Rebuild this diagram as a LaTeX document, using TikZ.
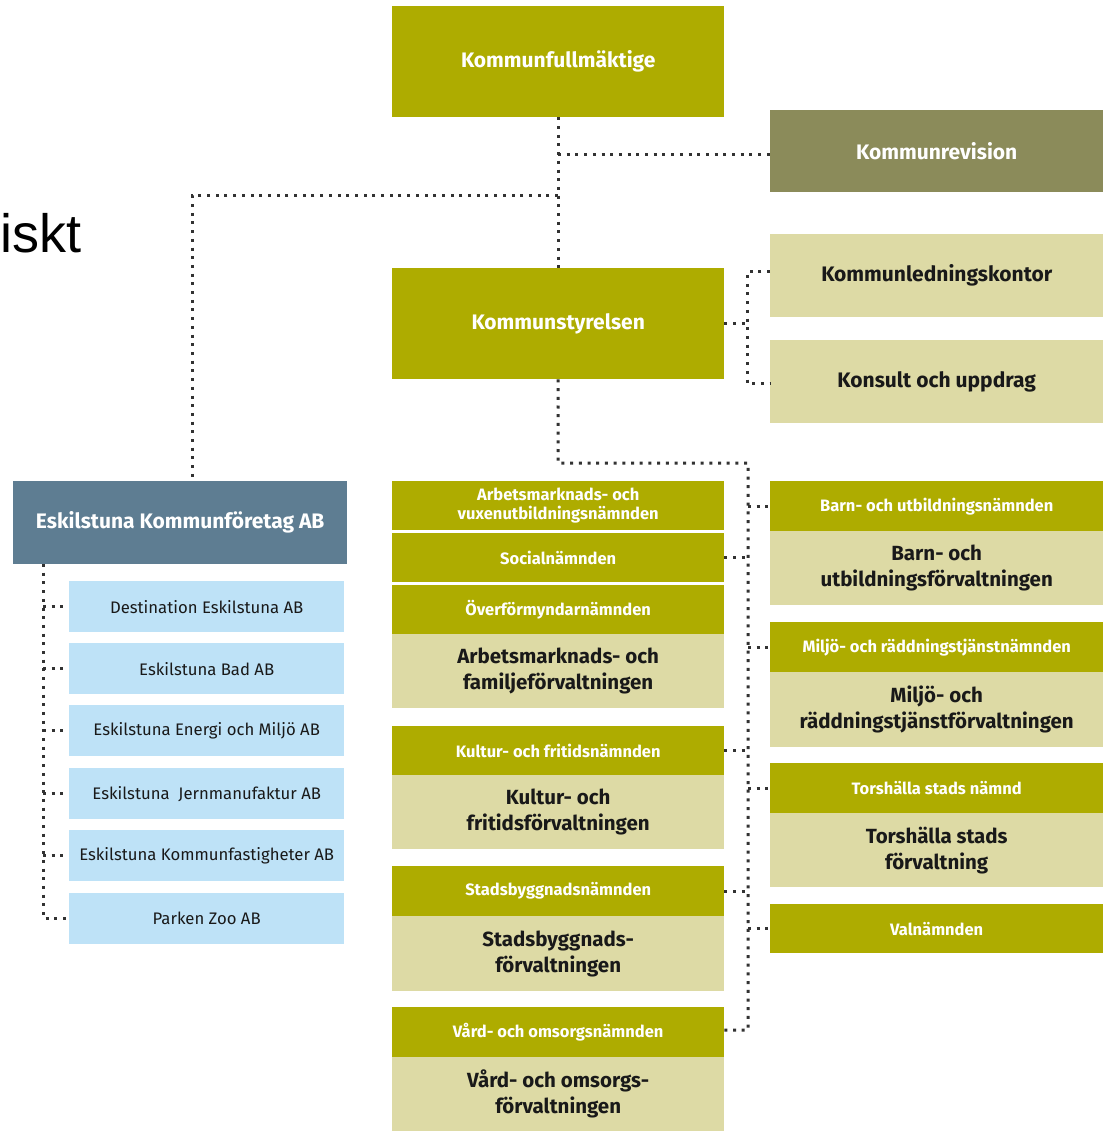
\documentclass[tikz,border=0pt]{standalone}
\usepackage{fontspec}
\setmainfont{Fira Sans}
\newfontfamily\hfont{Fira Sans}
\newfontfamily\dfont{Fira Sans}
\newfontfamily\arialf{Liberation Sans}
\definecolor{olive}{RGB}{174,172,0}
\definecolor{revis}{RGB}{139,139,90}
\definecolor{lightol}{RGB}{221,218,165}
\definecolor{lblue}{RGB}{190,226,247}
\definecolor{slate}{RGB}{94,125,146}
\definecolor{dotc}{RGB}{50,50,50}
\tikzset{
  bx/.style={rectangle, inner sep=0pt, anchor=north west, align=center},
  bigh/.style={bx, fill=olive, text=white, font=\hfont\bfseries\fontsize{21}{24}\selectfont},
  revh/.style={bx, fill=revis, text=white, font=\hfont\bfseries\fontsize{21}{24}\selectfont},
  lbig/.style={bx, fill=lightol, text=black!90, font=\hfont\bfseries\fontsize{21}{24}\selectfont},
  smh/.style={bx, fill=olive, text=white, font=\hfont\bfseries\fontsize{16.5}{19.5}\selectfont},
  lbox/.style={bx, fill=lightol, text=black!90, font=\dfont\bfseries\fontsize{20.5}{26}\selectfont},
  blbox/.style={bx, fill=lblue, text=black!90, font=\hfont\fontsize{16.7}{20}\selectfont, minimum width=275pt, minimum height=51pt},
  ekfh/.style={bx, fill=slate, text=white, font=\hfont\bfseries\fontsize{21}{24}\selectfont},
  dotline/.style={draw=dotc, line width=3pt, dash pattern=on 3pt off 5.7pt}
}
\begin{document}
\begin{tikzpicture}[x=1pt,y=-1pt]
\useasboundingbox (0,0) rectangle (1109,1131);
\fill[white] (0,0) rectangle (1109,1131);
\node[anchor=base west, inner sep=0pt, font=\arialf\fontsize{54}{60}\selectfont] (iskt) at (0,253) {iskt};
% top
\node[bigh, minimum width=332pt, minimum height=111pt] (kf) at (392,6) {Kommunfullmäktige};
\node[revh, minimum width=333pt, minimum height=82pt] (kr) at (770,110) {Kommunrevision};
\node[bigh, minimum width=332pt, minimum height=111pt] (ks) at (392,268) {Kommunstyrelsen};
\node[lbig, minimum width=333pt, minimum height=83pt] (kl) at (770,234) {Kommunledningskontor};
\node[lbig, minimum width=333pt, minimum height=83pt] (ku) at (770,340) {Konsult och uppdrag};
% left
\node[ekfh, minimum width=334pt, minimum height=83pt] (ekf) at (13,481) {Eskilstuna Kommunföretag AB};
\node[blbox] (b1) at (69,581) {Destination Eskilstuna AB};
\node[blbox] (b2) at (69,643) {Eskilstuna Bad AB};
\node[blbox] (b3) at (69,705) {Eskilstuna Energi och Miljö AB};
\node[blbox] (b4) at (69,768) {Eskilstuna\ \ Jernmanufaktur AB};
\node[blbox] (b5) at (69,830) {Eskilstuna Kommunfastigheter AB};
\node[blbox] (b6) at (69,893) {Parken Zoo AB};
% middle
\node[smh, minimum width=332pt, minimum height=49pt] (avn) at (392,481) {Arbetsmarknads- och\\vuxenutbildningsnämnden};
\node[smh, minimum width=332pt, minimum height=49pt] (soc) at (392,533) {Socialnämnden};
\node[smh, minimum width=332pt, minimum height=49pt] (ovf) at (392,585) {Överförmyndarnämnden};
\node[lbox, minimum width=332pt, minimum height=74pt] (afv) at (392,634) {Arbetsmarknads- och\\familjeförvaltningen};
\node[smh, minimum width=332pt, minimum height=49pt] (kfn) at (392,726) {Kultur- och fritidsnämnden};
\node[lbox, minimum width=332pt, minimum height=74pt] (kff) at (392,775) {Kultur- och\\fritidsförvaltningen};
\node[smh, minimum width=332pt, minimum height=50pt] (sbn) at (392,866) {Stadsbyggnadsnämnden};
\node[lbox, minimum width=332pt, minimum height=75pt] (sbf) at (392,916) {Stadsbyggnads-\\förvaltningen};
\node[smh, minimum width=332pt, minimum height=50pt] (von) at (392,1007) {Vård- och omsorgsnämnden};
\node[lbox, minimum width=332pt, minimum height=74pt] (vof) at (392,1057) {Vård- och omsorgs-\\förvaltningen};
% right
\node[smh, minimum width=333pt, minimum height=50pt] (bun) at (770,481) {Barn- och utbildningsnämnden};
\node[lbox, minimum width=333pt, minimum height=74pt] (buf) at (770,531) {Barn- och\\utbildningsförvaltningen};
\node[smh, minimum width=333pt, minimum height=50pt] (mrn) at (770,622) {Miljö- och räddningstjänstnämnden};
\node[lbox, minimum width=333pt, minimum height=75pt] (mrf) at (770,672) {Miljö- och\\räddningstjänstförvaltningen};
\node[smh, minimum width=333pt, minimum height=50pt] (tsn) at (770,763) {Torshälla stads nämnd};
\node[lbox, minimum width=333pt, minimum height=74pt] (tsf) at (770,813) {Torshälla stads\\förvaltning};
\node[smh, minimum width=333pt, minimum height=49pt] (val) at (770,904) {Valnämnden};
% connectors
\coordinate (c1) at (558,155);
\coordinate (c2) at (558,196);
\coordinate (c3) at (192,196);
\coordinate (c4) at (747,272);
\coordinate (c5) at (747,383);
\coordinate (c6) at (558,463);
\coordinate (c7) at (748,463);
\coordinate (c8) at (748,1030);
\coordinate (c9) at (43,564);
\coordinate (c10) at (43,918);
\draw[dotline] (kf.south) -- (ks.north);
\draw[dotline] (c1) -- (c1 -| kr.west);
\draw[dotline] (c2) -- (c3) -- (c3 |- ekf.north);
\draw[dotline] (ks.east) -- (ks.east -| c4);
\draw[dotline] (c4 -| kl.west) -- (c4) -- (c5) -- (c5 -| ku.west);
\draw[dotline] (ks.south) -- (c6) -- (c7) -- (c8) -- (c8 -| von.east);
\draw[dotline] (soc.east) -- (soc.east -| c7);
\draw[dotline] (kfn.east) -- (kfn.east -| c7);
\draw[dotline] (sbn.east) -- (sbn.east -| c7);
\draw[dotline] (bun.west -| c7) -- (bun.west);
\draw[dotline] (mrn.west -| c7) -- (mrn.west);
\draw[dotline] (tsn.west -| c7) -- (tsn.west);
\draw[dotline] (val.west -| c7) -- (val.west);
\draw[dotline] (c9) -- (c10) -- (c10 -| b6.west);
\foreach \b in {b1,b2,b3,b4,b5}{\draw[dotline] (\b.west -| c9) -- (\b.west);}
\end{tikzpicture}
\end{document}
